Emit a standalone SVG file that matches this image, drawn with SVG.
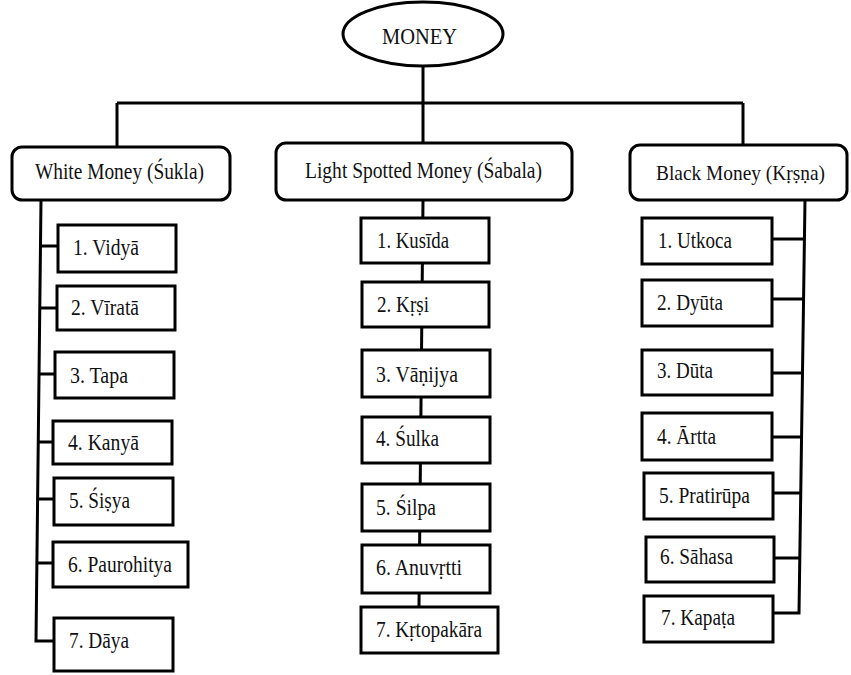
<svg xmlns="http://www.w3.org/2000/svg" width="851" height="675" viewBox="0 0 851 675">
<style>
  .ln { fill: none; stroke: #000; stroke-width: 3; }
  .bx { fill: #fff; stroke: #000; stroke-width: 3; }
  .t { font-family: "Liberation Serif", "Times New Roman", "DejaVu Serif", serif; font-size: 23px; fill: #111; }
</style>
<rect width="851" height="675" fill="#fff"/>
<g id="connectors" class="ln">
  <path d="M423 66 V103 M117 103 H743 M117 103 V147 M423 103 V143 M743 103 V145"/>
  <path d="M41 200 L36 641 H54"/>
  <path d="M40.5 246 H58 M39.8 308 H57 M39 374 H55 M38.3 442 H53 M37.6 499 H54 M36.9 563 H53"/>
  <path d="M423 200 L419 607"/>
  <path d="M805 200 L799 613 H773"/>
  <path d="M772 239 H804.4 M772 299 H803.6 M772 373 H802.5 M772 437 H801.6 M773 493 H800.7 M774 558 H799.8"/>
</g>
<g id="money">
  <ellipse class="bx" cx="423" cy="34" rx="80" ry="32"/>
  <text class="t" x="382" y="44" textLength="75" lengthAdjust="spacingAndGlyphs">MONEY</text>
</g>
<g id="white">
  <rect class="bx" x="12" y="147" width="218" height="53" rx="10"/>
  <text class="t" x="35" y="179" textLength="169" lengthAdjust="spacingAndGlyphs">White Money (Śukla)</text>
</g>
<g id="spotted">
  <rect class="bx" x="276" y="143" width="296" height="57" rx="10"/>
  <text class="t" x="305" y="178" textLength="237" lengthAdjust="spacingAndGlyphs">Light Spotted Money (Śabala)</text>
</g>
<g id="black">
  <rect class="bx" x="630" y="145" width="217" height="55" rx="10"/>
  <text class="t" x="656" y="180" style="font-size:21px" textLength="169" lengthAdjust="spacingAndGlyphs">Black Money (Kṛṣṇa)</text>
</g>
<g id="w1"><rect class="bx" x="58" y="225" width="118" height="47"/><text class="t" x="73" y="255" textLength="66" lengthAdjust="spacingAndGlyphs">1. Vidyā</text></g>
<g id="w2"><rect class="bx" x="57" y="286" width="118" height="44"/><text class="t" x="71" y="315" textLength="68" lengthAdjust="spacingAndGlyphs">2. Vīratā</text></g>
<g id="w3"><rect class="bx" x="55" y="352" width="119" height="46"/><text class="t" x="70" y="383" textLength="58" lengthAdjust="spacingAndGlyphs">3. Tapa</text></g>
<g id="w4"><rect class="bx" x="53" y="421" width="119" height="43"/><text class="t" x="68" y="450" textLength="71" lengthAdjust="spacingAndGlyphs">4. Kanyā</text></g>
<g id="w5"><rect class="bx" x="54" y="478" width="119" height="47"/><text class="t" x="69" y="508" textLength="61" lengthAdjust="spacingAndGlyphs">5. Śiṣya</text></g>
<g id="w6"><rect class="bx" x="53" y="542" width="135" height="45"/><text class="t" x="68" y="572" textLength="104" lengthAdjust="spacingAndGlyphs">6. Paurohitya</text></g>
<g id="w7"><rect class="bx" x="54" y="618" width="119" height="53"/><text class="t" x="69" y="648" textLength="60" lengthAdjust="spacingAndGlyphs">7. Dāya</text></g>
<g id="s1"><rect class="bx" x="361" y="218" width="128" height="45"/><text class="t" x="377" y="248" textLength="72" lengthAdjust="spacingAndGlyphs">1. Kusīda</text></g>
<g id="s2"><rect class="bx" x="362" y="282" width="127" height="45"/><text class="t" x="377" y="312" textLength="52" lengthAdjust="spacingAndGlyphs">2. Kṛṣi</text></g>
<g id="s3"><rect class="bx" x="362" y="350" width="128" height="47"/><text class="t" x="376" y="382" textLength="82" lengthAdjust="spacingAndGlyphs">3. Vāṇijya</text></g>
<g id="s4"><rect class="bx" x="362" y="417" width="128" height="46"/><text class="t" x="376" y="446" textLength="63" lengthAdjust="spacingAndGlyphs">4. Śulka</text></g>
<g id="s5"><rect class="bx" x="362" y="484" width="128" height="47"/><text class="t" x="376" y="515" textLength="60" lengthAdjust="spacingAndGlyphs">5. Śilpa</text></g>
<g id="s6"><rect class="bx" x="362" y="545" width="128" height="48"/><text class="t" x="376" y="575" textLength="86" lengthAdjust="spacingAndGlyphs">6. Anuvṛtti</text></g>
<g id="s7"><rect class="bx" x="361" y="607" width="137" height="46"/><text class="t" x="376" y="637" textLength="106" lengthAdjust="spacingAndGlyphs">7. Kṛtopakāra</text></g>
<g id="b1"><rect class="bx" x="642" y="218" width="130" height="46"/><text class="t" x="658" y="248" textLength="74" lengthAdjust="spacingAndGlyphs">1. Utkoca</text></g>
<g id="b2"><rect class="bx" x="642" y="280" width="130" height="46"/><text class="t" x="657" y="310" textLength="66" lengthAdjust="spacingAndGlyphs">2. Dyūta</text></g>
<g id="b3"><rect class="bx" x="642" y="350" width="130" height="45"/><text class="t" x="657" y="378" textLength="56" lengthAdjust="spacingAndGlyphs">3. Dūta</text></g>
<g id="b4"><rect class="bx" x="642" y="413" width="130" height="47"/><text class="t" x="657" y="444" textLength="59" lengthAdjust="spacingAndGlyphs">4. Ārtta</text></g>
<g id="b5"><rect class="bx" x="644" y="473" width="129" height="46"/><text class="t" x="659" y="503" textLength="91" lengthAdjust="spacingAndGlyphs">5. Pratirūpa</text></g>
<g id="b6"><rect class="bx" x="646" y="537" width="128" height="45"/><text class="t" x="660" y="564" textLength="73" lengthAdjust="spacingAndGlyphs">6. Sāhasa</text></g>
<g id="b7"><rect class="bx" x="644" y="596" width="129" height="46"/><text class="t" x="661" y="625" textLength="74" lengthAdjust="spacingAndGlyphs">7. Kapaṭa</text></g>
</svg>
